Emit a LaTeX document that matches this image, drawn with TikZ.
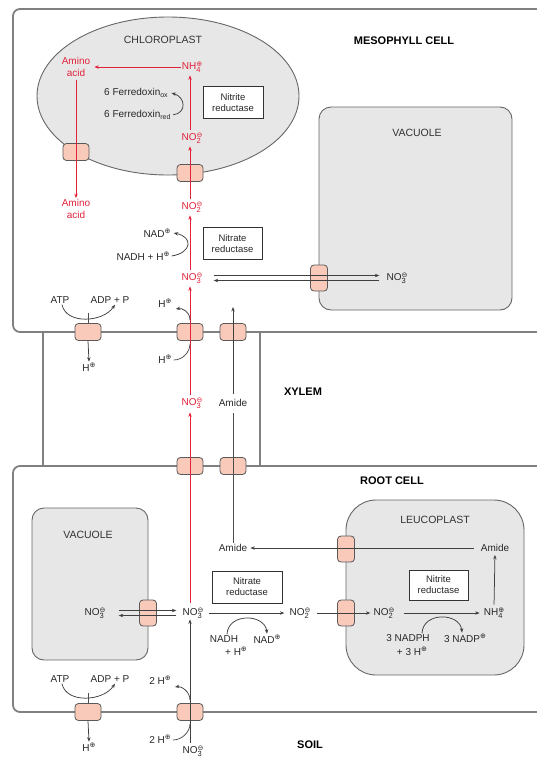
\documentclass[tikz,border=0pt]{standalone}
\usepackage{fontspec}
\setmainfont{Liberation Sans}
\newfontfamily\symf{DejaVu Sans}
\usetikzlibrary{arrows.meta,shapes.geometric}
\definecolor{nred}{RGB}{226,34,58}
\definecolor{tfill}{RGB}{249,202,186}
\definecolor{orgfill}{RGB}{231,231,231}
\definecolor{memb}{RGB}{128,128,128}
\definecolor{txt}{RGB}{40,40,40}
\newcommand{\ionc}[2]{\raisebox{-2.6pt}{\vbox{\offinterlineskip\hbox{\fontsize{7}{7}\selectfont\symf #2}\kern0.4pt\hbox{\fontsize{7.5}{7.5}\selectfont #1}}}}
\newcommand{\hplus}{\raisebox{3.6pt}{\fontsize{7}{7}\selectfont\symf ⊕}}
\begin{document}
\begin{tikzpicture}[x=1pt,y=-1pt,
  every node/.style={font=\fontsize{10}{12}\selectfont, text=txt, inner sep=1pt},
  tp/.style={draw=black!65, fill=tfill, rounded corners=3.5pt, minimum width=26pt, minimum height=17pt, inner sep=0pt, line width=0.8pt},
  tpv/.style={tp, minimum width=17pt, minimum height=26pt},
  mem/.style={draw=memb, line width=1.8pt},
  org/.style={draw=black!60, fill=orgfill, line width=0.9pt, inner sep=0pt},
  arr/.style={-{Stealth[length=4.5pt,width=3.4pt]}, draw=black!75, line width=0.75pt},
  ln/.style={draw=black!70, line width=0.75pt},
  rarr/.style={-{Stealth[length=4.5pt,width=3.4pt]}, draw=nred, line width=0.9pt},
  rt/.style={text=nred},
  enz/.style={draw=black!80, fill=white, line width=0.8pt, minimum height=32pt, align=center, inner sep=2pt, font=\fontsize{9.5}{11}\selectfont},
  region/.style={font=\fontsize{11}{13}\selectfont\bfseries, text=black},
  olab/.style={font=\fontsize{10.5}{12}\selectfont, text=black!80},
]
\useasboundingbox (0,0) rectangle (537,758);

% organelles
\node[org, ellipse, minimum width=262pt, minimum height=158pt] (chl) at (168,96) {};
\node[org, rounded corners=12pt, minimum width=193pt, minimum height=203pt] (vac1) at (415.5,208.5) {};
\node[org, rounded corners=12pt, minimum width=116pt, minimum height=152pt] (vac2) at (90,584) {};
\node[org, rounded corners=30pt, minimum width=178pt, minimum height=175pt] (leu) at (435,587.5) {};

% membranes
\draw[mem, rounded corners=7pt] (560,9) -- (13,9) -- (13,332) -- (560,332);
\draw[mem] (43,332) -- (43,466);
\draw[mem] (260,332) -- (260,466);
\draw[mem, rounded corners=7pt] (560,466) -- (13,466) -- (13,712) -- (560,712);

% region labels
\node[region] (lmeso) at (404,41) {MESOPHYLL CELL};
\node[region] (lxyl) at (303,392) {XYLEM};
\node[region] (lroot) at (392,481) {ROOT CELL};
\node[region] (lsoil) at (310,745) {SOIL};
\node[olab] (lchl) at (163,40) {CHLOROPLAST};
\node[olab] (lvac1) at (417,133) {VACUOLE};
\node[olab] (lvac2) at (88,535) {VACUOLE};
\node[olab] (lleu) at (435,520) {LEUCOPLAST};

% transporters
\node[tp] (tATP1) at (88,332) {};
\node[tp] (tH1) at (190,332) {};
\node[tp] (tAm1) at (233,332) {};
\node[tp] (tN2) at (190,466) {};
\node[tp] (tAm2) at (233,466) {};
\node[tp] (tATP3) at (88,712) {};
\node[tp] (tH3) at (190,712) {};
\node[tp] (tCp1) at (190,173) {};
\node[tp] (tCp2) at (76,152) {};
\node[tpv] (tV1) at (319,278) {};
\node[tpv] (tV2) at (148,613) {};
\node[tpv] (tL1) at (346,549) {};
\node[tpv] (tL2) at (346,613) {};

% enzyme boxes
\node[enz, minimum width=60pt] (nir1) at (233,102.5) {Nitrite\\reductase};
\node[enz, minimum width=59pt] (nr1) at (232.5,243.5) {Nitrate\\reductase};
\node[enz, minimum width=70pt] (nr2) at (247,587) {Nitrate\\reductase};
\node[enz, minimum width=59pt, minimum height=30pt] (nir2) at (438.5,585) {Nitrite\\reductase};

% chloroplast / mesophyll texts
\node[rt] (nh4) at (192,67) {NH\ionc{4}{⊕}};
\node[rt, align=center] (amino1) at (76,67) {Amino\\acid};
\node[anchor=west] (fdox) at (103,93) {6 Ferredoxin\textsubscript{ox}};
\node[anchor=west] (fdred) at (103,115) {6 Ferredoxin\textsubscript{red}};
\node[rt] (no2a) at (192,138) {NO\ionc{2}{⊖}};
\node[rt] (no2b) at (192,207) {NO\ionc{2}{⊖}};
\node[rt, align=center] (amino2) at (76,209) {Amino\\acid};
\node (nad1) at (157,233) {NAD\hplus};
\node (nadh1) at (143,256) {NADH + H\hplus};
\node[rt] (no3a) at (192,278) {NO\ionc{3}{⊖}};
\node (no3v1) at (397,278) {NO\ionc{3}{⊖}};
\node (atp1) at (60,300) {ATP};
\node (adp1) at (110,300) {ADP + P};
\node (hd1) at (89,367) {H\hplus};
\node (ht1) at (165,303) {H\hplus};
\node (hb1) at (165,359) {H\hplus};

% xylem texts
\node[rt] (no3x) at (192,403) {NO\ionc{3}{⊖}};
\node (amidex) at (233,403) {Amide};

% root texts
\node (amider) at (233,548) {Amide};
\node (amidel) at (495,548) {Amide};
\node (no3v2) at (95,613) {NO\ionc{3}{⊖}};
\node (no3r) at (193,613) {NO\ionc{3}{⊖}};
\node (no2r) at (300,613) {NO\ionc{2}{⊖}};
\node (no2l) at (384,613) {NO\ionc{2}{⊖}};
\node (nh4l) at (494,613) {NH\ionc{4}{⊕}};
\node (nadh2) at (224,639) {NADH};
\node (nadh2b) at (236,651) {+ H\hplus};
\node (nad2) at (267,639) {NAD\hplus};
\node (nadph) at (408,638) {3 NADPH};
\node (nadphb) at (412,651) {+ 3 H\hplus};
\node (nadp) at (465,638) {3 NADP\hplus};
\node (atp3) at (60,679) {ATP};
\node (adp3) at (110,679) {ADP + P};
\node (hd3) at (89,747) {H\hplus};
\node (ht3) at (160,680) {2 H\hplus};
\node (hb3) at (160,739) {2 H\hplus};
\node (no3s) at (193,751) {NO\ionc{3}{⊖}};
\coordinate (amtop) at (233,307);

% red pathway
\draw[rarr, shorten >=3pt] (nh4.west) -- (amino1.east |- nh4.west);
\draw[rarr, shorten <=2pt] (amino1.south -| tCp2) -- (amino2.north -| tCp2);
\draw[rarr, shorten <=2pt, shorten >=2pt] (tCp1 |- no2a.north) -- (tCp1 |- nh4.south);
\draw[rarr, shorten <=2pt, shorten >=2pt] (tCp1 |- no2b.north) -- (tCp1 |- no2a.south);
\draw[rarr, shorten <=2pt, shorten >=2pt] (tCp1 |- no3a.north) -- (tCp1 |- no2b.south);
\draw[rarr, shorten <=2pt, shorten >=2pt] (tCp1 |- no3x.north) -- (tCp1 |- no3a.south);
\draw[rarr, shorten <=4pt, shorten >=3pt] (tCp1 |- no3r.north) -- (tCp1 |- no3x.south);

% ferredoxin and NADH loops (mesophyll)
\draw[arr, shorten <=1pt] (fdred.east) .. controls +(15,-2) and +(14,4) .. ([xshift=2pt]fdox.east);
\draw[arr] ([xshift=1pt]nadh1.east) .. controls +(20,-3) and +(20,4) .. ([xshift=2pt]nad1.east);

% vacuole exchange (mesophyll)
\draw[arr, shorten <=10pt, shorten >=6pt] ([yshift=2.5pt]no3a.east) -- ([yshift=2.5pt]no3v1.west);
\draw[arr, shorten <=6pt, shorten >=10pt] ([yshift=-2.5pt]no3v1.west) -- ([yshift=-2.5pt]no3a.east);

% ATP pump (mesophyll)
\draw[ln] (tATP1.north) -- ++(0,-10);
\draw[arr] ([xshift=2pt]atp1.south) .. controls +(4,20) and +(-12,18) .. ([xshift=5pt]adp1.south);
\draw[arr] (tATP1.south) -- (hd1.north);

% H+ symport (mesophyll)
\draw[arr] ([yshift=3pt]tH1.north) .. controls +(0,-9) and +(6,-1) .. ([xshift=3pt,yshift=-6pt]ht1.east);
\draw[ln] ([xshift=1pt,yshift=-1pt]hb1.east) .. controls +(9,0) and +(0,8) .. ([yshift=-3pt]tH1.south);

% amide route
\draw[ln, shorten >=5pt] (amider.north) -- (amidex.south);
\draw[arr, shorten <=4pt] (amidex.north) -- (amtop);
\draw[arr, shorten <=6pt, shorten >=2pt] (amidel.west) -- (amider.east);
\draw[arr, shorten <=2pt, shorten >=2pt] (nh4l.north) -- (amidel.south);

% root pathway
\draw[arr, shorten <=2pt] (tH3 |- no3s.north) -- (tH3 |- no3r.south);
\draw[arr, shorten <=4pt, shorten >=4pt] (no3r.east) -- (no2r.west);
\draw[arr, shorten <=5pt, shorten >=2pt] (no2r.east) -- (no2l.west);
\draw[arr, shorten <=8pt, shorten >=3pt] (no2l.east) -- (nh4l.west);

% vacuole exchange (root)
\draw[arr, shorten <=12pt, shorten >=5pt] ([yshift=2.5pt]no3v2.east) -- ([yshift=2.5pt]no3r.west);
\draw[arr, shorten <=5pt, shorten >=12pt] ([yshift=-2.5pt]no3r.west) -- ([yshift=-2.5pt]no3v2.east);

% NADH / NADPH loops (root)
\draw[arr] ([xshift=3pt]nadh2.north) .. controls +(1,-22) and +(-2,-20) .. (nad2.north);
\draw[arr] ([xshift=14pt]nadph.north) .. controls +(1,-22) and +(-2,-20) .. ([xshift=-3pt]nadp.north);

% ATP pump (soil)
\draw[ln] (tATP3.north) -- ++(0,-10);
\draw[arr] ([xshift=2pt]atp3.south) .. controls +(4,20) and +(-12,18) .. ([xshift=5pt]adp3.south);
\draw[arr] (tATP3.south) -- (hd3.north);

% H+ symport (soil)
\draw[arr] ([yshift=3pt]tH3.north) .. controls +(0,-9) and +(6,-1) .. ([xshift=3pt,yshift=-7pt]ht3.east);
\draw[ln] ([xshift=1pt,yshift=-1pt]hb3.east) .. controls +(9,0) and +(0,8) .. ([yshift=-3pt]tH3.south);
\end{tikzpicture}
\end{document}
